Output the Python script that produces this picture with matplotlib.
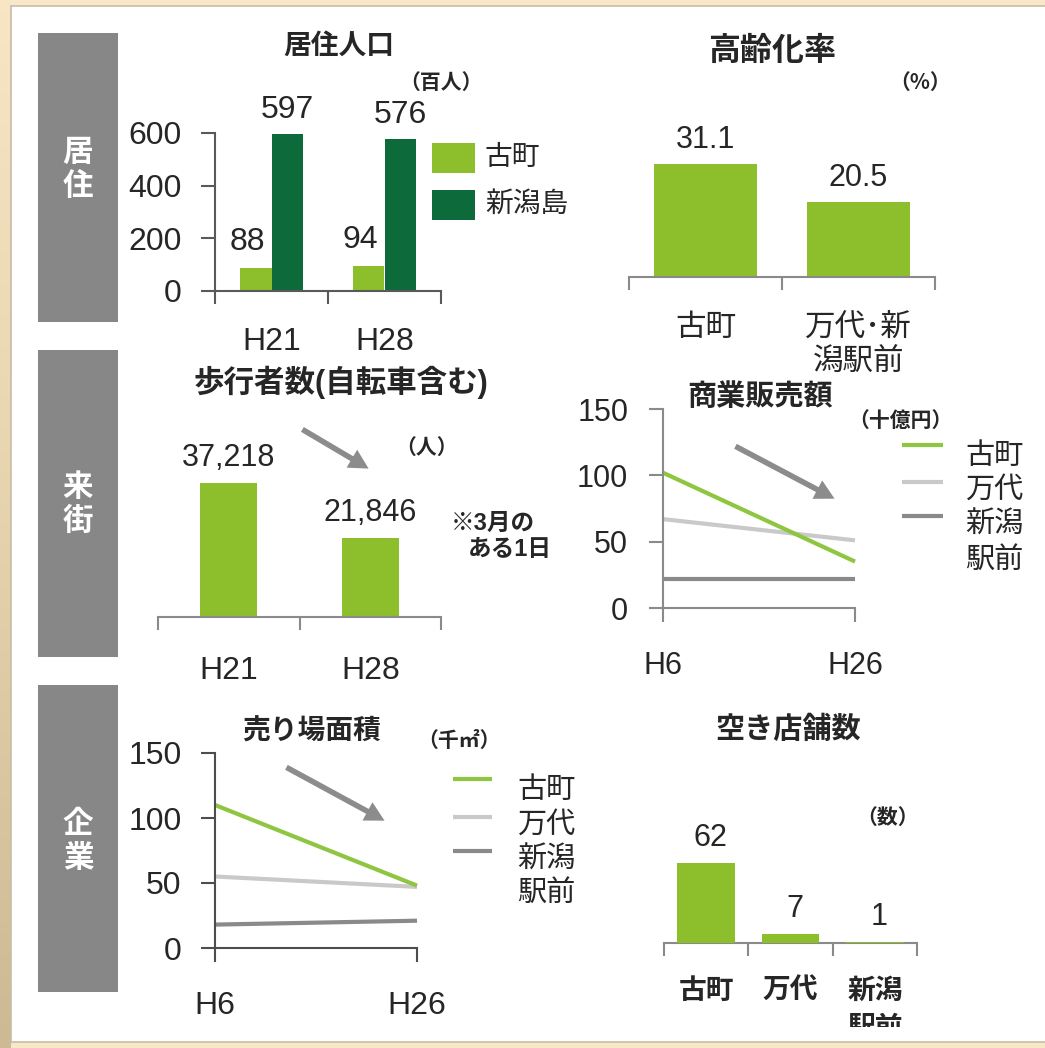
import matplotlib
matplotlib.use("Agg")
import matplotlib.pyplot as plt
from matplotlib.patches import Rectangle, FancyArrowPatch
from matplotlib.lines import Line2D
import numpy as np

plt.rcParams['font.family'] = ['Liberation Sans', 'Noto Sans CJK JP']
plt.rcParams['text.color'] = '#262626'
plt.rcParams['xtick.color'] = '#262626'
plt.rcParams['ytick.color'] = '#262626'

# 居住人口（百人）
pop_years = ['H21', 'H28']
pop_furumachi = [88, 94]
pop_niigatajima = [597, 576]

# 高齢化率（%）
aging_areas = ['古町', '万代･新\n潟駅前']
aging_rate = [31.1, 20.5]

# 歩行者数（人）
ped_years = ['H21', 'H28']
ped_counts = [37218, 21846]

# 商業販売額（十億円）
sales_years = ['H6', 'H26']
sales_furumachi = [102, 35]
sales_bandai = [67, 51]
sales_ekimae = [22, 22]

# 売り場面積（千㎡）
floor_years = ['H6', 'H26']
floor_furumachi = [110, 48]
floor_bandai = [55, 47]
floor_ekimae = [18, 21]

# 空き店舗数
vacant_areas = ['古町', '万代', '新潟\n駅前']
vacant_counts = [62, 7, 1]

LIGHT = '#8dbe2b'
DARK = '#0d6b3b'
LINE_GREEN = '#8ec641'
LINE_LIGHT = '#c9c9c9'
LINE_GREY = '#8a8a8a'
SIDE_GREY = '#878787'
ARROW_GREY = '#8c8c8c'
CJK = ['Noto Sans CJK JP', 'DejaVu Sans']

W, H = 1045, 1048
fig = plt.figure(figsize=(W / 100, H / 100), dpi=100)
fig.patch.set_facecolor('#f8e7c8')


def fx(x):
    return x / W


def fy(y):
    return 1 - y / H


def add_axes_px(x0, y0, x1, y1):
    return fig.add_axes([fx(x0), fy(y1), (x1 - x0) / W, (y1 - y0) / H])


def fig_rect(x0, y0, x1, y1, **kw):
    fig.add_artist(Rectangle((fx(x0), fy(y1)), (x1 - x0) / W, (y1 - y0) / H,
                             transform=fig.transFigure, **kw))


def fig_text(x, y, s, **kw):
    kw.setdefault('ha', 'center')
    kw.setdefault('va', 'center')
    return fig.text(fx(x), fy(y), s, **kw)


def unit_text(x, y, s):
    fig_text(x, y, s, fontsize=15, fontweight='bold', family=CJK)


def fig_arrow(x0, y0, x1, y1):
    fig.add_artist(FancyArrowPatch(
        (fx(x0), fy(y0)), (fx(x1), fy(y1)), transform=fig.transFigure,
        arrowstyle='simple,tail_width=0.2,head_width=0.75,head_length=0.7',
        mutation_scale=20, color=ARROW_GREY, lw=0))


def style_axes(ax, left=True, color='#595959'):
    ax.set_facecolor('none')
    ax.spines['top'].set_visible(False)
    ax.spines['right'].set_visible(False)
    ax.spines['left'].set_visible(left)
    for s in ('left', 'bottom'):
        ax.spines[s].set_color(color)
        ax.spines[s].set_linewidth(1.5)
    if not left:
        ax.set_yticks([])


def category_ticks(ax, labels, fontsize, pad, weight='normal', color='#595959',
                   linespacing=1.2):
    n = len(labels)
    ax.set_xlim(-0.5, n - 0.5)
    ax.set_xticks(np.arange(n + 1) - 0.5)
    ax.set_xticklabels([])
    ax.set_xticks(np.arange(n), minor=True)
    ax.set_xticklabels(labels, minor=True, fontsize=fontsize, fontweight=weight,
                       linespacing=linespacing)
    ax.tick_params(axis='x', which='major', length=9, width=1.5, color=color,
                   direction='out')
    ax.tick_params(axis='x', which='minor', length=0, pad=pad)


def value_labels(ax, bars, texts, fontsize, offset_px, dx_px=0):
    for bar, t in zip(bars, texts):
        ax.annotate(t, (bar.get_x() + bar.get_width() / 2, bar.get_height()),
                    xytext=(dx_px * 0.72, offset_px * 0.72),
                    textcoords='offset points', ha='center', va='center',
                    fontsize=fontsize, annotation_clip=False)


# background: left strip shading and the white sheet
strip = fig.add_axes([0, 0, 11 / W, 1], zorder=-20)
strip.imshow(np.linspace(0, 1, 100)[:, None], aspect='auto',
             cmap=matplotlib.colors.LinearSegmentedColormap.from_list(
                 'paper', ['#f7e5c4', '#e6d3ae', '#cdb993']))
strip.axis('off')
fig_rect(11, 6, W + 2, 1042, facecolor='white', edgecolor='#c8bca6', lw=1.2,
         zorder=-10)

# section bars on the left
for chars, y0, y1, cy in [(('居', '住'), 33, 322, 170),
                          (('来', '街'), 350, 657, 505),
                          (('企', '業'), 685, 992, 842)]:
    fig_rect(38, y0, 118, y1, facecolor=SIDE_GREY, edgecolor='none', zorder=-5)
    fig_text(78, cy - 17, chars[0], color='white', fontsize=22, fontweight='bold')
    fig_text(78, cy + 17, chars[1], color='white', fontsize=22, fontweight='bold')

# ---- 居住人口 ----
ax1 = add_axes_px(215, 100, 441, 291)
x = np.arange(len(pop_years))
bw = 0.283
bars_f = ax1.bar(x - bw / 2, pop_furumachi, bw, color=LIGHT)
bars_n = ax1.bar(x + bw / 2, pop_niigatajima, bw, color=DARK)
ax1.set_ylim(0, 725)
style_axes(ax1)
ax1.spines['left'].set_bounds(0, 600)
category_ticks(ax1, pop_years, 23, 26)
ax1.set_yticks([0, 200, 400, 600])
ax1.tick_params(axis='y', labelsize=23, length=10, width=1.5, color='#595959', pad=14)
value_labels(ax1, bars_f, [str(v) for v in pop_furumachi], 23, 26, dx_px=-8)
value_labels(ax1, bars_n, [str(v) for v in pop_niigatajima], 23, 24)
fig_text(339, 47, '居住人口', fontsize=20, fontweight='bold')
unit_text(441, 82, '（百人）')
fig_rect(432, 143, 475, 173, facecolor=LIGHT, edgecolor='none')
fig_rect(432, 190, 475, 220, facecolor=DARK, edgecolor='none')
fig_text(485, 158, '古町', fontsize=20, ha='left')
fig_text(485, 205, '新潟島', fontsize=20, ha='left')

# ---- 高齢化率 ----
ax2 = add_axes_px(629, 100, 935, 277)
bars_a = ax2.bar(np.arange(len(aging_areas)), aging_rate, 0.67, color=LIGHT)
ax2.set_ylim(0, 48.6)
style_axes(ax2, left=False, color='#8a8a8a')
category_ticks(ax2, aging_areas, 22, 26, color='#8a8a8a')
value_labels(ax2, bars_a, [f'{v:.1f}' for v in aging_rate], 22, 24)
fig_text(772, 52, '高齢化率', fontsize=23, fontweight='bold')
unit_text(920, 82, '（%）')

# ---- 歩行者数 ----
ax3 = add_axes_px(158, 420, 441, 617)
bars_p = ax3.bar(np.arange(len(ped_years)), ped_counts, 0.4, color=LIGHT)
ax3.set_ylim(0, 54700)
style_axes(ax3, left=False, color='#8a8a8a')
category_ticks(ax3, ped_years, 23, 28, color='#8a8a8a')
value_labels(ax3, bars_p, [f'{v:,}' for v in ped_counts], 22, 25)
fig_text(341, 382, '歩行者数(自転車含む)', fontsize=22, fontweight='bold')
unit_text(427, 447, '（人）')
fig_text(493, 523, '※3月の', fontsize=17, fontweight='bold')
fig_text(510, 549, 'ある1日', fontsize=17, fontweight='bold')
fig_arrow(300, 428, 371, 470)

# ---- 商業販売額 ----
ax4 = add_axes_px(663, 400, 855, 608)
tx = np.arange(len(sales_years))
for vals, col in [(sales_ekimae, LINE_GREY), (sales_bandai, LINE_LIGHT),
                  (sales_furumachi, LINE_GREEN)]:
    ax4.plot(tx, vals, color=col, lw=3, clip_on=False, solid_capstyle='butt')
ax4.set_xlim(0, 1)
ax4.set_ylim(0, 156.8)
style_axes(ax4, color='#8a8a8a')
ax4.spines['left'].set_bounds(0, 150)
ax4.set_xticks(tx)
ax4.set_xticklabels(sales_years)
ax4.set_yticks([0, 50, 100, 150])
ax4.tick_params(axis='x', labelsize=22, length=10, width=1.5, color='#8a8a8a', pad=21)
ax4.tick_params(axis='y', labelsize=22, length=10, width=1.5, color='#8a8a8a', pad=15)
fig_text(760, 397, '商業販売額', fontsize=21, fontweight='bold')
unit_text(900, 420, '（十億円）')
for yh, col in [(445, LINE_GREEN), (482, LINE_LIGHT), (516, LINE_GREY)]:
    fig.add_artist(Line2D([fx(902), fx(943)], [fy(yh), fy(yh)], color=col, lw=3,
                          transform=fig.transFigure, solid_capstyle='butt'))
for yt, s in [(456, '古町'), (490, '万代'), (525, '新潟'), (560, '駅前')]:
    fig_text(965, yt, s, fontsize=21, ha='left')
fig_arrow(733, 445, 837, 500)

# ---- 売り場面積 ----
ax5 = add_axes_px(215, 740, 417, 948)
tx = np.arange(len(floor_years))
for vals, col in [(floor_ekimae, LINE_GREY), (floor_bandai, LINE_LIGHT),
                  (floor_furumachi, LINE_GREEN)]:
    ax5.plot(tx, vals, color=col, lw=3, clip_on=False, solid_capstyle='butt')
ax5.set_xlim(0, 1)
ax5.set_ylim(0, 160)
style_axes(ax5, color='#4d4d4d')
ax5.spines['left'].set_bounds(0, 150)
ax5.set_xticks(tx)
ax5.set_xticklabels(floor_years)
ax5.set_yticks([0, 50, 100, 150])
ax5.tick_params(axis='x', labelsize=23, length=10, width=1.5, color='#4d4d4d', pad=21)
ax5.tick_params(axis='y', labelsize=23, length=10, width=1.5, color='#4d4d4d', pad=14)
fig_text(312, 732, '売り場面積', fontsize=20, fontweight='bold')
unit_text(459, 740, '（千㎡）')
for yh, col in [(779, LINE_GREEN), (817, LINE_LIGHT), (851, LINE_GREY)]:
    fig.add_artist(Line2D([fx(453), fx(492)], [fy(yh), fy(yh)], color=col, lw=3,
                          transform=fig.transFigure, solid_capstyle='butt'))
for yt, s in [(790, '古町'), (825, '万代'), (860, '新潟'), (893, '駅前')]:
    fig_text(517, yt, s, fontsize=21, ha='left')
fig_arrow(284, 766, 387, 822)

# ---- 空き店舗数 ----
ax6 = add_axes_px(664, 800, 917, 943)
bars_v = ax6.bar(np.arange(len(vacant_areas)), vacant_counts, 0.68, color=LIGHT,
                 zorder=3)
ax6.set_ylim(0, 110.9)
style_axes(ax6, left=False, color='#8a8a8a')
category_ticks(ax6, vacant_areas, 20, 26, weight='bold', color='#8a8a8a',
               linespacing=1.55)
value_labels(ax6, bars_v, [str(v) for v in vacant_counts], 22, 25, dx_px=4)
fig_text(788, 730, '空き店舗数', fontsize=21, fontweight='bold')
unit_text(888, 817, '（数）')
# the sheet ends just below the first line of the last category label
fig_rect(830, 1027, 930, 1041, facecolor='white', edgecolor='none', zorder=1)

fig.savefig('out.png', dpi=100, facecolor=fig.get_facecolor())
